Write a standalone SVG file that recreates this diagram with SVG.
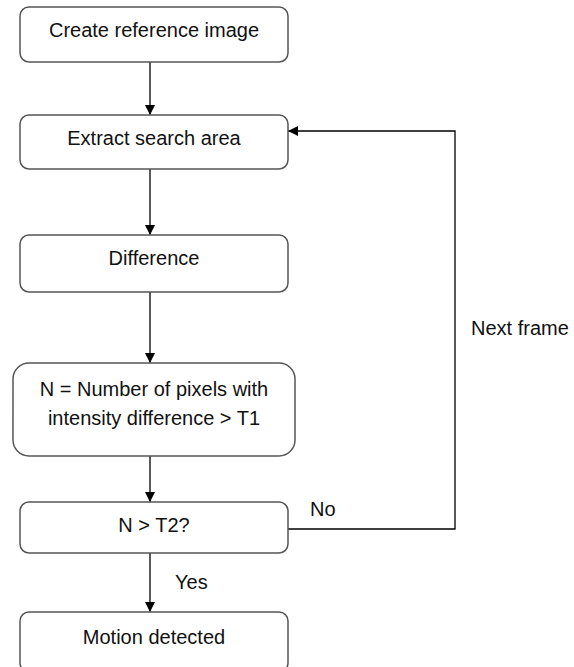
<svg xmlns="http://www.w3.org/2000/svg" width="574" height="667" viewBox="0 0 574 667">
<defs>
<style>
.box{fill:#fff;stroke:#555;stroke-width:1.5}
.t{font-family:"Liberation Sans",Arial,sans-serif;font-size:20px;fill:#111;text-anchor:middle}
.l{font-family:"Liberation Sans",Arial,sans-serif;font-size:20px;fill:#111}
.c{fill:none;stroke:#000;stroke-width:1.3}
</style>
<marker id="ah" viewBox="0 0 10 10" refX="10" refY="5" markerWidth="10" markerHeight="10" markerUnits="userSpaceOnUse" orient="auto">
<path d="M0,0 L10,5 L0,10 z" fill="#000"/>
</marker>
</defs>
<rect width="574" height="667" fill="#fff"/>
<g id="connectors">
<path class="c" d="M150,62 V115" marker-end="url(#ah)"/>
<path class="c" d="M150,169 V235" marker-end="url(#ah)"/>
<path class="c" d="M150,292 V363" marker-end="url(#ah)"/>
<path class="c" d="M150,456 V502" marker-end="url(#ah)"/>
<path class="c" d="M150,553 V612" marker-end="url(#ah)"/>
<path class="c" d="M288,529 H455 V131 H288" marker-end="url(#ah)"/>
<text class="l" x="310" y="516">No</text>
<text class="l" x="471" y="335">Next frame</text>
<text class="l" x="175" y="589">Yes</text>
</g>
<g id="n1"><rect class="box" x="20" y="7" width="268" height="55" rx="9"/><text class="t" x="154" y="37">Create reference image</text></g>
<g id="n2"><rect class="box" x="20" y="115" width="268" height="54" rx="9"/><text class="t" x="154" y="145">Extract search area</text></g>
<g id="n3"><rect class="box" x="20" y="235" width="268" height="57" rx="9"/><text class="t" x="154" y="265">Difference</text></g>
<g id="n4"><rect class="box" x="13" y="363" width="282" height="93" rx="16"/><text class="t" x="154" y="396">N = Number of pixels with</text><text class="t" x="154" y="425">intensity difference &gt; T1</text></g>
<g id="n5"><rect class="box" x="20" y="502" width="268" height="51" rx="9"/><text class="t" x="154" y="532">N &gt; T2?</text></g>
<g id="n6"><rect class="box" x="20" y="612" width="268" height="60" rx="9"/><text class="t" x="154" y="644">Motion detected</text></g>
</svg>
